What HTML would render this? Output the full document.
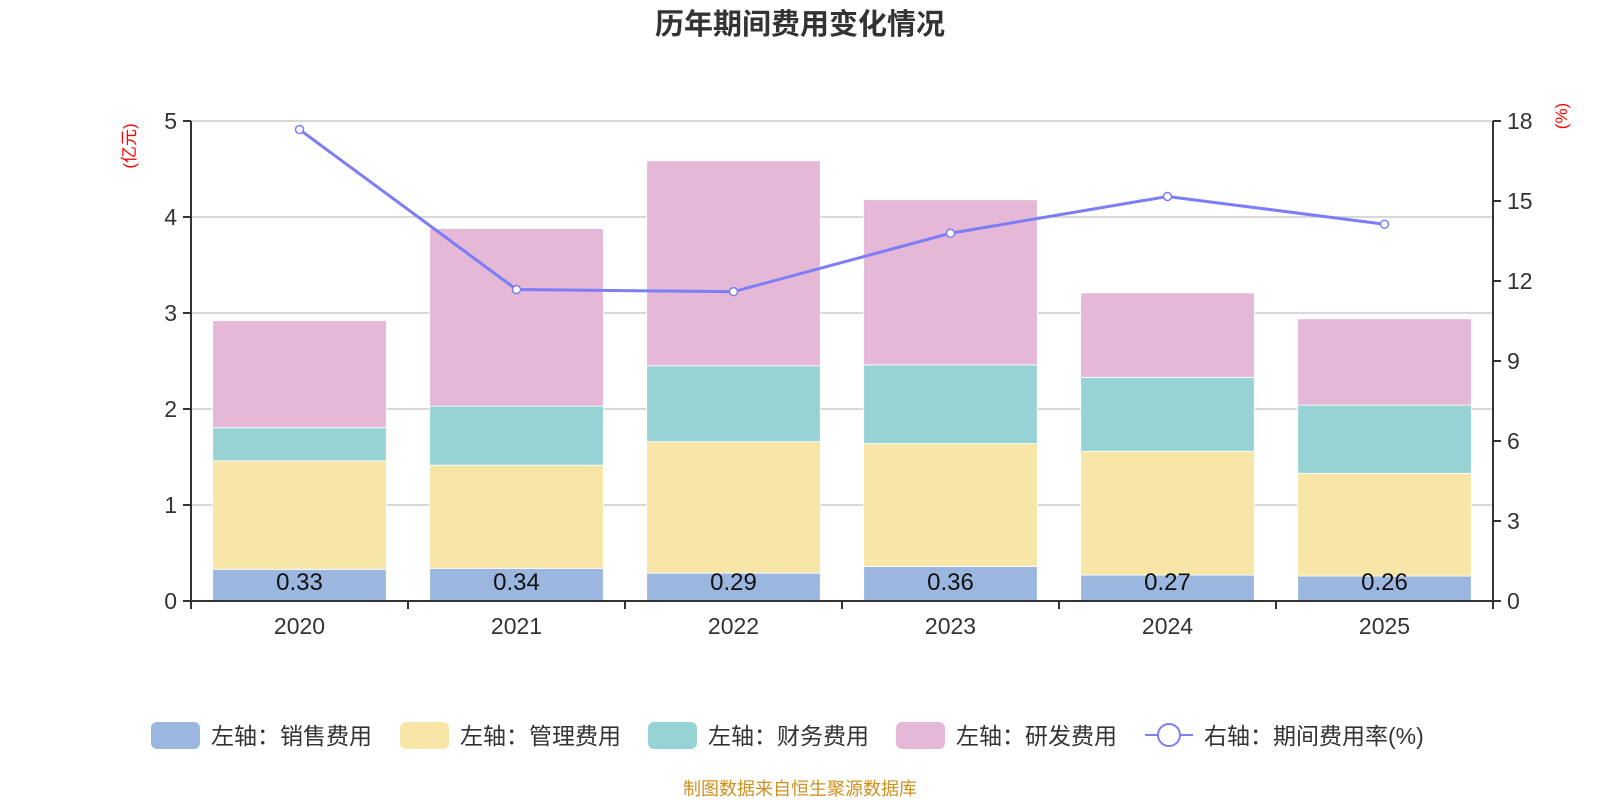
<!DOCTYPE html>
<html><head><meta charset="utf-8"><style>
html,body{margin:0;padding:0;background:#fff;}
svg{display:block;font-family:"Liberation Sans","Noto Sans CJK SC",sans-serif;}
</style></head><body>
<svg id="chart" width="1600" height="800" viewBox="0 0 1600 800">
<text x="800" y="34" text-anchor="middle" font-size="29" font-weight="bold" fill="#333">历年期间费用变化情况</text>
<text transform="translate(135,146) rotate(-90)" text-anchor="middle" font-size="17" fill="#f00">(亿元)</text>
<text transform="translate(1567,116) rotate(-90)" text-anchor="middle" font-size="17" fill="#f00">(%)</text>
<g id="grid"></g><g id="bars"></g><g id="axes"></g><g id="line"></g>
<g id="legend" font-size="23" fill="#333">
<rect x="151" y="722" width="49" height="27" rx="6" fill="#9bb7e0"/>
<text x="211" y="744">左轴：销售费用</text>
<rect x="400" y="722" width="49" height="27" rx="6" fill="#f7e6a7"/>
<text x="460" y="744">左轴：管理费用</text>
<rect x="648" y="722" width="49" height="27" rx="6" fill="#97d3d4"/>
<text x="708" y="744">左轴：财务费用</text>
<rect x="896" y="722" width="49" height="27" rx="6" fill="#e6b8d7"/>
<text x="956" y="744">左轴：研发费用</text>
<line x1="1145" y1="735" x2="1193" y2="735" stroke="#7b7ef5" stroke-width="2"/>
<circle cx="1169" cy="735" r="11" fill="#fff" stroke="#7b7ef5" stroke-width="2"/>
<text x="1204" y="744">右轴：期间费用率(%)</text>
</g>
<text x="800" y="795" text-anchor="middle" font-size="18" fill="#d09020">制图数据来自恒生聚源数据库</text>
</svg>
<script>
const years = ["2020","2021","2022","2023","2024","2025"];
const sales = [0.33,0.34,0.29,0.36,0.27,0.26];
const admin = [1.13,1.075,1.37,1.28,1.29,1.07];
const finance = [0.345,0.615,0.79,0.82,0.77,0.71];
const rd = [1.115,1.85,2.135,1.72,0.88,0.90];
const rate = [17.68,11.68,11.6,13.79,15.17,14.13];
const leftTicks = [0,1,2,3,4,5];
const rightTicks = [0,3,6,9,12,15,18];

const NS="http://www.w3.org/2000/svg";
const X0=191,X1=1493,Y0=601,Y1=121;
const band=(X1-X0)/years.length;
const xc=i=>X0+band*(i+0.5);
const yL=v=>Y0-(v/5)*(Y0-Y1);
const yR=v=>Y0-(v/18)*(Y0-Y1);
function mk(tag,attrs,parent,text){const e=document.createElementNS(NS,tag);for(const k in attrs)e.setAttribute(k,attrs[k]);if(text!==undefined)e.textContent=text;document.getElementById(parent).appendChild(e);return e;}

leftTicks.forEach(t=>{
  if(t>0){const g=mk('line',{x1:X0,x2:X1,y1:yL(t),y2:yL(t),stroke:'#ccc','stroke-width':1.5},'grid');
  
  }
  const tk=mk('line',{x1:X0-8,x2:X0,y1:yL(t),y2:yL(t),stroke:'#333','stroke-width':2},'axes');
  
  
  const l=mk('text',{x:X0-14,y:yL(t)+8,'text-anchor':'end','font-size':23,fill:'#333'},'axes',t);
  
  
});
rightTicks.forEach(t=>{
  const tk=mk('line',{x1:X1,x2:X1+8,y1:yR(t),y2:yR(t),stroke:'#333','stroke-width':2},'axes');
  
  
  const l=mk('text',{x:X1+14,y:yR(t)+8,'font-size':23,fill:'#333'},'axes',t);
  
  
});
const series=[[sales,'#9bb7e0','sales'],[admin,'#f7e6a7','admin'],[finance,'#97d3d4','finance'],[rd,'#e6b8d7','rd']];
years.forEach((y,i)=>{
  let base=0;const w=band*0.8,x=xc(i)-w/2;
  series.forEach(([arr,c,n])=>{
    const r=mk('rect',{x:x,y:yL(base+arr[i]),width:w,height:yL(base)-yL(base+arr[i]),fill:c,stroke:'#fff','stroke-width':0.8},'bars');
    
    
    base+=arr[i];
  });
  const lb=mk('text',{x:xc(i),y:yL(0)-11,'text-anchor':'middle','font-size':24,fill:'#111'},'bars',sales[i].toFixed(2));
  
  
  const xl=mk('text',{x:xc(i),y:634,'text-anchor':'middle','font-size':23,fill:'#333'},'axes',y);
  
  
});
for(let i=0;i<=years.length;i++){
  const tk=mk('line',{x1:X0+band*i,x2:X0+band*i,y1:Y0,y2:Y0+8,stroke:'#333','stroke-width':2},'axes');
  
  
}
const xa=mk('line',{x1:X0,x2:X1,y1:Y0,y2:Y0,stroke:'#333','stroke-width':2},'axes');


const la=mk('line',{x1:X0,x2:X0,y1:Y1,y2:Y0,stroke:'#333','stroke-width':2},'axes');


const ra=mk('line',{x1:X1,x2:X1,y1:Y1,y2:Y0,stroke:'#333','stroke-width':2},'axes');


const pl=mk('polyline',{points:rate.map((v,i)=>xc(i)+','+yR(v)).join(' '),fill:'none',stroke:'#7b7ef5','stroke-width':3},'line');


rate.forEach((v,i)=>{
  const c=mk('circle',{cx:xc(i),cy:yR(v),r:4,fill:'#fff',stroke:'#7b7ef5','stroke-width':1.5},'line');
  
  
});
</script>
</body></html>
